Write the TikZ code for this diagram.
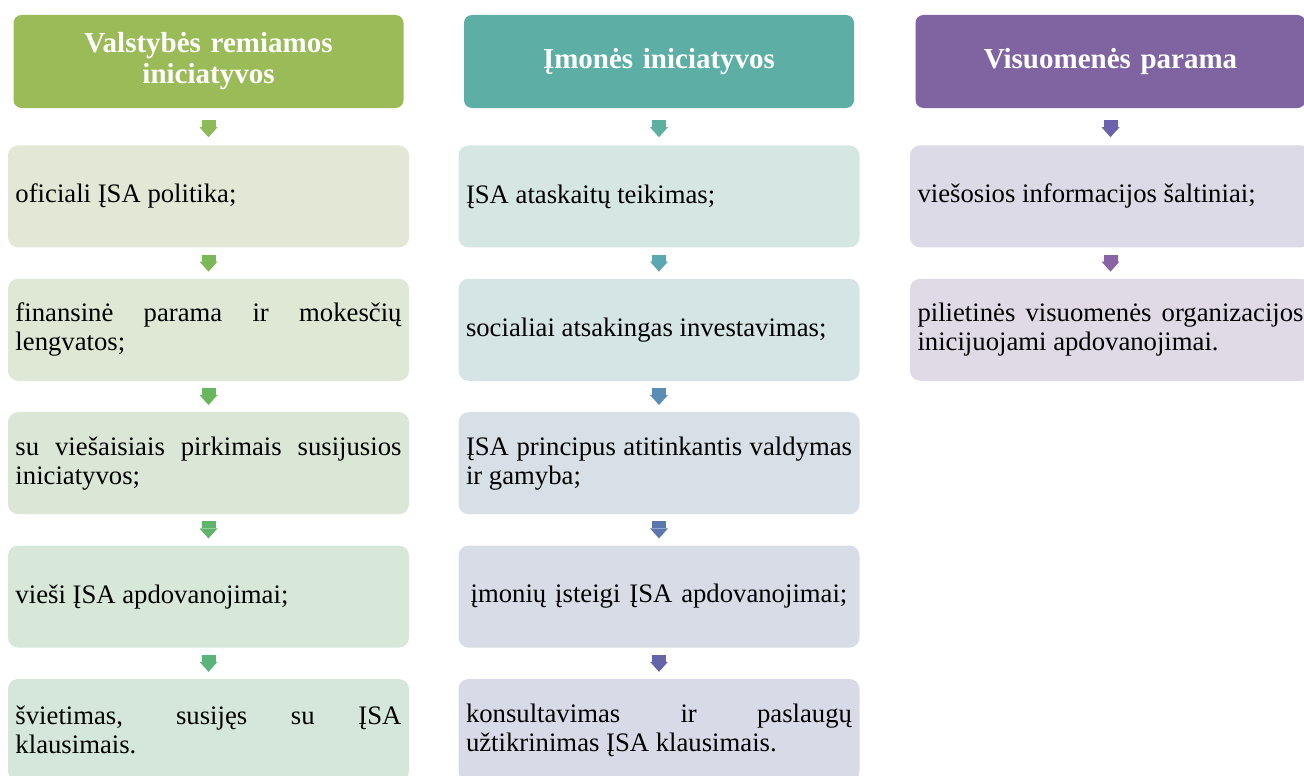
\documentclass[tikz,border=0pt]{standalone}
\usepackage{fontspec}
\setmainfont{Liberation Serif}
\usetikzlibrary{positioning}
\usetikzlibrary{arrows.meta}
\hyphenpenalty=10000
\exhyphenpenalty=10000

\definecolor{headGreen}{RGB}{155,187,89}
\definecolor{headTeal}{RGB}{93,175,166}
\definecolor{headPurple}{RGB}{128,100,162}
% box fills
\definecolor{fillV1}{RGB}{226,232,213}
\definecolor{fillV2}{RGB}{222,232,213}
\definecolor{fillV3}{RGB}{218,231,214}
\definecolor{fillV4}{RGB}{215,231,216}
\definecolor{fillV5}{RGB}{213,231,218}
\definecolor{fillI1}{RGB}{214,230,227}
\definecolor{fillI2}{RGB}{213,228,228}
\definecolor{fillI3}{RGB}{214,224,230}
\definecolor{fillI4}{RGB}{215,220,231}
\definecolor{fillI5}{RGB}{217,218,231}
\definecolor{fillP1}{RGB}{219,218,230}
\definecolor{fillP2}{RGB}{224,218,231}
% arrow colours
\definecolor{arrV1}{RGB}{142,186,89}
\definecolor{arrV2}{RGB}{122,184,88}
\definecolor{arrV3}{RGB}{104,182,94}
\definecolor{arrV4}{RGB}{93,180,106}
\definecolor{arrV5}{RGB}{91,179,124}
\definecolor{arrI1}{RGB}{93,175,160}
\definecolor{arrI2}{RGB}{92,168,178}
\definecolor{arrI3}{RGB}{91,140,180}
\definecolor{arrI4}{RGB}{92,118,176}
\definecolor{arrI5}{RGB}{100,100,170}
\definecolor{arrP1}{RGB}{108,98,171}
\definecolor{arrP2}{RGB}{138,98,166}

\tikzset{
  head/.style={rectangle, rounded corners=8pt, fill=#1, text=white,
    font=\fontsize{29}{31}\selectfont\bfseries, align=center,
    text width=380pt, minimum width=390pt, minimum height=93pt, inner sep=0pt},
  item/.style={rectangle, rounded corners=10pt, fill=#1,
    font=\fontsize{26.7}{29}\selectfont, align=justify,
    text width=386pt, inner xsep=7.5pt, inner ysep=0pt, minimum height=102pt},
  flow/.style={draw=#1, line width=14pt, shorten <=7pt, shorten >=7pt,
    -{Triangle[width=18pt,length=10pt,line width=0pt]}},
}

\begin{document}
\begin{tikzpicture}[node distance=31pt]
\useasboundingbox (0,0) rectangle (1304pt,-776pt);
%%% valstybes remiamos %%%

      \node[head=headGreen] (v0) at (208.5pt,-61.5pt) { Valstybės remiamos\\ iniciatyvos };
      \node[item=fillV1, below=37pt of v0] (v1) { oficiali ĮSA politika; };
      \node[item=fillV2, below=of v1] (v2) { finansinė parama ir mokesčių\linebreak lengvatos; };
      \node[item=fillV3, below=of v2] (v3) { su viešaisiais pirkimais susijusios\linebreak iniciatyvos; };
      \node[item=fillV4, below=of v3] (v4) { vieši ĮSA apdovanojimai; };
      \node[item=fillV5, below=of v4] (v5) { švietimas, susijęs su ĮSA\linebreak klausimais. };
      %%
      \draw[flow=arrV1, shorten <=12pt, shorten >=8pt] (v0) -- (v1);
      \draw[flow=arrV2] (v1) -- (v2);
      \draw[flow=arrV3] (v2) -- (v3);
      \draw[flow=arrV4] (v3) -- (v4);
      \draw[flow=arrV5] (v4) -- (v5);

%%% imones %%%

      \node[head=headTeal] (i0) at (659pt,-61.5pt) { Įmonės iniciatyvos };
      \node[item=fillI1, below=37pt of i0] (i1) { ĮSA ataskaitų teikimas; };
      \node[item=fillI2, below=of i1] (i2) { socialiai atsakingas investavimas; };
      \node[item=fillI3, below=of i2] (i3) { ĮSA principus atitinkantis valdymas\linebreak ir gamyba; };
      \node[item=fillI4, align=center, below=of i3] (i4) { įmonių įsteigi ĮSA apdovanojimai; };
      \node[item=fillI5, below=of i4] (i5) { konsultavimas ir paslaugų\linebreak užtikrinimas ĮSA klausimais. };
      %%
      \draw[flow=arrI1, shorten <=12pt, shorten >=8pt] (i0) -- (i1);
      \draw[flow=arrI2] (i1) -- (i2);
      \draw[flow=arrI3] (i2) -- (i3);
      \draw[flow=arrI4] (i3) -- (i4);
      \draw[flow=arrI5] (i4) -- (i5);

%%% visuomenes %%%

      \node[head=headPurple] (p0) at (1110.5pt,-61.5pt) { Visuomenės parama };
      \node[item=fillP1, below=37pt of p0] (p1) { viešosios informacijos šaltiniai; };
      \node[item=fillP2, below=of p1] (p2) { pilietinės visuomenės organizacijos\linebreak inicijuojami apdovanojimai. };
      %%
      \draw[flow=arrP1, shorten <=12pt, shorten >=8pt] (p0) -- (p1);
      \draw[flow=arrP2] (p1) -- (p2);

\end{tikzpicture}
\end{document}
